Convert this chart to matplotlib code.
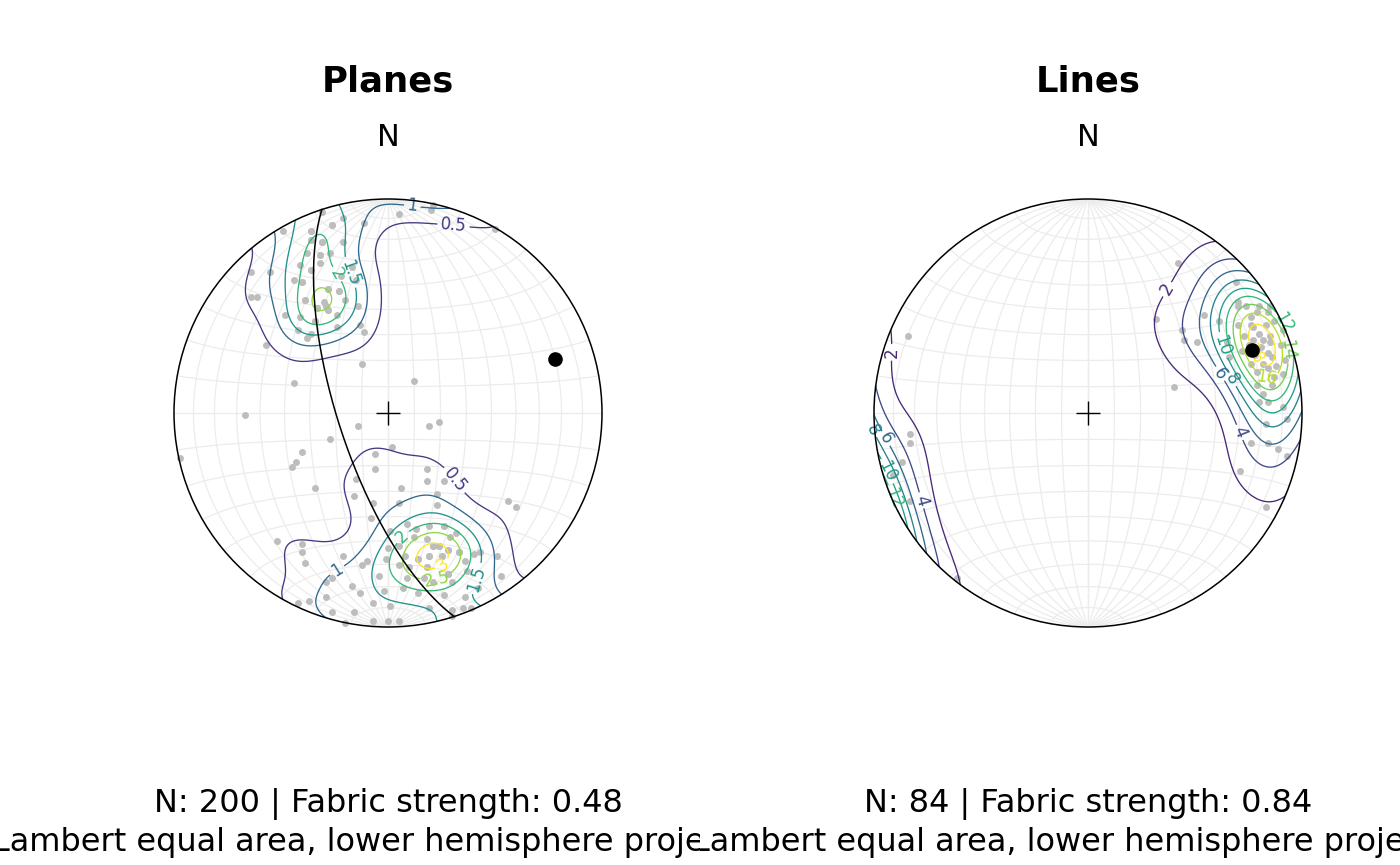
import numpy as np
import matplotlib
matplotlib.use("Agg")
import matplotlib.pyplot as plt
from matplotlib.patches import Circle
from matplotlib.colors import Normalize

# ---------------- data (Lambert equal-area net coordinates: east, north; primitive radius = 1)
# visible poles to planes
plane_pole_x = [-0.49, -0.36, -0.11, -0.36, -0.31, -0.21, -0.38, -0.32, -0.27, -0.64,
                -0.55, -0.41, -0.36, -0.44, -0.40, -0.22, -0.15, -0.28, -0.64, -0.61,
                -0.39, -0.33, -0.29, -0.28, -0.14, -0.48, -0.41, -0.24, -0.13, -0.11,
                -0.42, -0.36, -0.57, -0.31, -0.21, -0.26, -0.12, -0.44, -0.17, -0.23,
                -0.24, -0.38, -0.34, -0.20, 0.05, 0.20, 0.21, 0.50, 0.12, -0.67,
                -0.97, -0.14, -0.27, -0.40, -0.43, -0.45, -0.34, -0.06, -0.06, -0.15,
                -0.16, -0.08, -0.07, -0.52, -0.40, -0.40, -0.39, -0.21, -0.10, -0.12,
                -0.01, -0.29, -0.26, -0.17, -0.13, -0.02, -0.07, 0.01, -0.37, -0.42,
                -0.29, -0.26, -0.16, -0.07, 0.00, -0.20, 0.19, 0.24, 0.02, 0.18,
                0.26, 0.18, 0.23, 0.06, 0.05, 0.23, 0.56, 0.60, 0.09, 0.13,
                0.19, 0.26, 0.29, 0.32, 0.12, 0.18, 0.05, 0.21, 0.24, 0.28,
                0.33, 0.08, 0.14, 0.19, 0.25, 0.40, 0.36, 0.43, 0.05, 0.10,
                0.18, 0.28, 0.37, 0.51, 0.09, 0.17, 0.21, 0.30, 0.42, 0.53,
                0.07, 0.14, 0.26, 0.36, 0.19, 0.30, 0.35, 0.39, 0.30, 0.05,
                0.01, 0.00, -0.04]
plane_pole_y = [0.85, 0.85, 0.89, 0.81, 0.80, 0.80, 0.75, 0.74, 0.75, 0.66,
                0.66, 0.69, 0.67, 0.62, 0.61, 0.64, 0.62, 0.58, 0.54, 0.54,
                0.53, 0.49, 0.50, 0.48, 0.50, 0.46, 0.45, 0.46, 0.41, 0.38,
                0.39, 0.37, 0.32, 0.94, 0.91, 0.88, 0.23, 0.14, 0.68, 0.57,
                0.40, 0.35, 0.43, 0.53, 0.93, 0.95, 0.97, 0.86, 0.15, -0.01,
                -0.21, -0.06, -0.12, -0.18, -0.23, -0.25, -0.35, -0.19, -0.26, -0.31,
                -0.39, -0.49, -0.42, -0.60, -0.61, -0.65, -0.70, -0.67, -0.69, -0.71,
                -0.68, -0.79, -0.77, -0.81, -0.84, -0.83, -0.89, -0.90, -0.88, -0.89,
                -0.86, -0.93, -0.93, -0.97, -0.97, -0.98, -0.06, -0.04, -0.16, -0.26,
                -0.32, -0.32, -0.38, -0.35, -0.42, -0.43, -0.41, -0.44, -0.52, -0.54,
                -0.53, -0.53, -0.58, -0.56, -0.58, -0.59, -0.62, -0.62, -0.62, -0.64,
                -0.65, -0.67, -0.68, -0.67, -0.67, -0.66, -0.69, -0.65, -0.71, -0.72,
                -0.72, -0.75, -0.74, -0.67, -0.77, -0.77, -0.79, -0.79, -0.82, -0.76,
                -0.82, -0.84, -0.85, -0.86, -0.91, -0.92, -0.91, -0.91, -0.95, -0.97,
                -0.55, -0.63, -0.76]
# poles that coincide with visible markers in the two dense clusters (hidden by overlap, estimated)
plane_hidden_x = [-0.31, -0.32, -0.36, -0.28, -0.33, -0.29, -0.28, -0.39, -0.34, -0.36,
                  -0.36, -0.40, -0.23, -0.26, -0.32, -0.30,
                  0.19, 0.25, 0.28, 0.21, 0.28, 0.18, 0.24, 0.14, 0.26, 0.33]
plane_hidden_y = [0.80, 0.74, 0.67, 0.58, 0.49, 0.50, 0.48, 0.53, 0.43, 0.81,
                  0.85, 0.61, 0.57, 0.88, 0.70, 0.52,
                  -0.67, -0.67, -0.64, -0.62, -0.75, -0.72, -0.62, -0.68, -0.53, -0.65]

line_x = [0.42, 0.32, 0.44, 0.45, 0.51, 0.69, 0.70, 0.54, 0.61, 0.70,
          0.76, 0.79, 0.84, 0.87, 0.91, 0.77, 0.80, 0.77, 0.82, 0.85,
          0.79, 0.84, 0.86, 0.82, 0.84, 0.76, 0.72, 0.65, 0.66, 0.70,
          0.74, 0.80, 0.85, 0.40, 0.87, 0.91, 0.79, 0.82, 0.80, 0.84,
          0.91, 0.83, 0.84, 0.76, 0.89, 0.93, 0.71, 0.83, -0.84, -0.83,
          -0.83, -0.87, -0.91, -0.83, -0.61, 0.75, 0.78, 0.81, 0.85, 0.73,
          0.90, 0.88, 0.79, 0.92, 0.86, 0.93, 0.76, 0.83]
line_y = [0.70, 0.44, 0.39, 0.34, 0.33, 0.61, 0.52, 0.46, 0.43, 0.41,
          0.45, 0.47, 0.47, 0.43, 0.39, 0.40, 0.37, 0.34, 0.34, 0.33,
          0.29, 0.28, 0.26, 0.23, 0.21, 0.23, 0.29, 0.33, 0.26, 0.50,
          0.50, 0.50, 0.50, 0.12, 0.17, 0.18, 0.13, 0.09, 0.05, 0.05,
          0.03, -0.05, -0.14, -0.14, -0.17, -0.20, -0.27, -0.44, 0.36, -0.10,
          -0.14, -0.23, -0.29, -0.41, -0.77, 0.32, 0.27, 0.31, 0.36, 0.36,
          0.32, 0.22, 0.19, 0.25, 0.13, -0.03, 0.41, 0.41]

plane_mean_pole = (72, 19)   # trend, plunge (deg)
line_mean = (69, 19)         # trend, plunge (deg)

plane_levels = [0.5, 1, 1.5, 2, 2.5, 3]
line_levels = [2, 4, 6, 8, 10, 12, 14, 16, 18]
plane_peak = 3.25            # highest density (MUD)
line_peak = 19.5

titles = ["Planes", "Lines"]
captions = ["N: 200 | Fabric strength: 0.48", "N: 84 | Fabric strength: 0.84"]
projection_note = "Lambert equal area, lower hemisphere projection"

# ---------------- helpers
def net_to_vec(x, y):
    x = np.asarray(x, float); y = np.asarray(y, float)
    d = 1.0 - (x**2 + y**2)
    s = np.sqrt(np.clip(1.0 + d, 0, None))
    return np.stack([x * s, y * s, d], axis=-1)

def vec_to_net(v):
    v = np.array(v, float)
    neg = v[..., 2] < 0
    v[neg] *= -1
    s = 1.0 / np.sqrt(1.0 + v[..., 2])
    return v[..., 0] * s, v[..., 1] * s

def tp_vec(trend, plunge):
    t, p = np.radians(trend), np.radians(plunge)
    return np.array([np.cos(p) * np.sin(t), np.cos(p) * np.cos(t), np.sin(p)])

def great_circle(trend, plunge, n=240):
    p = tp_vec(trend, plunge)
    t = np.radians(trend)
    a = np.array([np.cos(t), -np.sin(t), 0.0])
    b = np.cross(p, a)
    if b[2] < 0:
        b = -b
    phi = np.linspace(0, np.pi, n)
    v = np.outer(np.cos(phi), a) + np.outer(np.sin(phi), b)
    return vec_to_net(v)

def small_circle_ns(alpha, n=240):
    al = np.radians(alpha)
    nvec = np.array([0.0, 1.0, 0.0]); e = np.array([1.0, 0, 0]); d = np.array([0, 0, 1.0])
    psi = np.linspace(0, np.pi, n)
    v = (np.cos(al) * nvec)[None, :] + np.sin(al) * (np.outer(np.cos(psi), e) + np.outer(np.sin(psi), d))
    return vec_to_net(v)

def density(gx, gy, px, py, kappa):
    G = net_to_vec(gx.ravel(), gy.ravel())
    P = net_to_vec(px, py)
    out = np.empty(G.shape[0])
    step = 20000
    for i in range(0, G.shape[0], step):
        c = np.abs(G[i:i + step] @ P.T)
        out[i:i + step] = np.exp(kappa * (c - 1.0)).mean(axis=1)
    out *= kappa / (1.0 - np.exp(-kappa))
    return out.reshape(gx.shape)

# ---------------- figure
W, H, DPI = 1400, 865, 100
fig = plt.figure(figsize=(W / DPI, H / DPI), dpi=DPI)
R_PX = 214.0
CX, CY = 388.0, 413.0
GRID_COLOR = "#ececec"
POINT_COLOR = "#bdbdbd"

ng = 361
g = np.linspace(-1.02, 1.02, ng)
GX, GY = np.meshgrid(g, g)
GR = np.hypot(GX, GY)

panels = [
    dict(x=plane_pole_x + plane_hidden_x, y=plane_pole_y + plane_hidden_y,
         levels=plane_levels, kappa=42.0, peak=plane_peak, mean=plane_mean_pole, gc=True),
    dict(x=line_x, y=line_y, levels=line_levels, kappa=25.0, peak=line_peak,
         mean=line_mean, gc=False),
]

for i, pan in enumerate(panels):
    ax = fig.add_axes([0.5 * i, 0, 0.5, 1])
    ax.set_xlim(-CX / R_PX, (W / 2 - CX) / R_PX)
    ax.set_ylim(-(H - CY) / R_PX, CY / R_PX)
    ax.axis("off")

    clip = Circle((0, 0), 1.0, transform=ax.transData, facecolor="none", edgecolor="none")
    ax.add_patch(clip)

    # net grid (10 degree Schmidt net)
    for dip in range(10, 91, 10):
        for tr in (90, 270):
            gx_, gy_ = great_circle(tr, 90 - dip)
            ln, = ax.plot(gx_, gy_, color=GRID_COLOR, lw=0.9, zorder=1)
            ln.set_clip_path(clip)
    for alpha in range(10, 171, 10):
        gx_, gy_ = small_circle_ns(alpha)
        ln, = ax.plot(gx_, gy_, color=GRID_COLOR, lw=0.9, zorder=1)
        ln.set_clip_path(clip)

    # data points
    ax.plot(pan["x"], pan["y"], "o", color=POINT_COLOR, ms=5.0, mew=0, zorder=2)

    # density contours
    D = density(GX, GY, pan["x"], pan["y"], pan["kappa"])
    D = np.where(GR <= 1.02, D, np.nan)
    D = D * pan["peak"] / np.nanmax(D)
    lv = pan["levels"]
    norm = Normalize(0, max(lv))
    cols = [plt.cm.viridis(norm(v)) for v in lv]
    cs = ax.contour(GX, GY, D, levels=lv, colors=cols, linewidths=0.95, zorder=3)
    cs.set_clip_path(clip)
    lbls = ax.clabel(cs, lv, fontsize=12, inline=True, inline_spacing=3, fmt="%g")
    for t in lbls:
        t.set_clip_path(clip)

    # mean / great circle
    mx, my = vec_to_net(tp_vec(*pan["mean"]))
    ax.plot([mx], [my], "o", color="black", ms=9.5, zorder=5)
    if pan["gc"]:
        gcx, gcy = great_circle(*pan["mean"])
        ax.plot(gcx, gcy, color="black", lw=1.1, zorder=4)

    # primitive and centre
    ax.add_patch(Circle((0, 0), 1.0, facecolor="none", edgecolor="black", lw=1.1, zorder=6))
    ax.plot([0], [0], "+", color="black", ms=17, mew=1.0, zorder=6)

    # texts
    ax.text(0, (CY - 81) / R_PX, titles[i], ha="center", va="center", fontsize=25.5,
            fontweight="bold", clip_on=True)
    ax.text(0, (CY - 138) / R_PX, "N", ha="center", va="center", fontsize=22, clip_on=True)
    ax.text(0, -(804 - CY) / R_PX, captions[i], ha="center", va="center", fontsize=23, clip_on=True)
    ax.text(0, -(843 - CY) / R_PX, projection_note, ha="center", va="center", fontsize=23, clip_on=True)

fig.savefig("out.png", dpi=DPI)
